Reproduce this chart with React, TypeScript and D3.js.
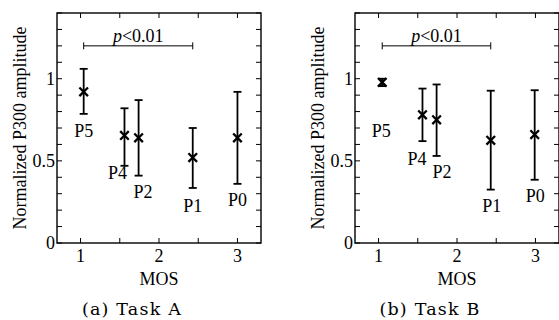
import React from "react";
import * as d3 from "d3";

// profiles, shared by both tasks
const profiles = ["P5", "P4", "P2", "P1", "P0"];
const mosA = [1.04, 1.56, 1.74, 2.43, 3.0];
const meanA = [0.92, 0.655, 0.64, 0.52, 0.64];
const lowA = [0.786, 0.47, 0.41, 0.335, 0.36];
const highA = [1.06, 0.82, 0.87, 0.7, 0.92];

const mosB = [1.047, 1.56, 1.74, 2.43, 2.99];
const meanB = [0.978, 0.78, 0.75, 0.625, 0.66];
const lowB = [0.955, 0.62, 0.53, 0.325, 0.385];
const highB = [1.0, 0.94, 0.965, 0.927, 0.93];

// label offsets (px) relative to each marker: [dx, dy]
const labelOffA = [[0, 45], [-7, 44], [4.5, 60], [0, 54], [0, 68]];
const labelOffB = [[-1, 55], [-5.5, 50], [5.4, 58], [1, 72], [0.5, 67]];

const xTicks = [1, 1.5, 2, 2.5, 3];
const xTickLabels = ["1", "2", "3"];
const yTicks = d3.range(0, 1.41, 0.1);
const yTickLabels = ["0", "0.5", "1"];

const W = 204;
const H = 230;
const serif = "'Liberation Serif', serif";
const fs = 18;

function Panel({ ox, mos, mean, low, high, offs, caption }: any) {
  const x = d3.scaleLinear().domain([0.7, 3.3]).range([0, W]);
  const y = d3.scaleLinear().domain([0, 1.4]).range([H, 0]);
  const tk = 5;
  const cap = 4;
  const m = 4.3;
  const bx0 = x(mos[0]);
  const bx1 = x(mos[3]);
  const by = y(1.2);
  const txt = { fontFamily: serif, fontSize: fs };
  return (
    <g transform={`translate(${ox},13)`}>
      {/* ticks on all sides */}
      {xTicks.map((t) => (
        <g key={"x" + t} stroke="#000" strokeWidth={1}>
          <line x1={x(t)} x2={x(t)} y1={H} y2={H - tk} />
          <line x1={x(t)} x2={x(t)} y1={0} y2={tk} />
        </g>
      ))}
      {yTicks.map((t) => (
        <g key={"y" + t} stroke="#000" strokeWidth={1}>
          <line x1={0} x2={tk} y1={y(t)} y2={y(t)} />
          <line x1={W} x2={W - tk} y1={y(t)} y2={y(t)} />
        </g>
      ))}
      <rect x={0} y={0} width={W} height={H} fill="none" stroke="#000" strokeWidth={1.4} />
      {xTickLabels.map((l) => (
        <text key={l} x={x(+l)} y={H + 19} textAnchor="middle" style={txt}>{l}</text>
      ))}
      {yTickLabels.map((l) => (
        <text key={l} x={-2} y={y(+l) + 6} textAnchor="end" style={txt}>{l}</text>
      ))}
      <text x={W / 2} y={H + 42} textAnchor="middle" style={txt}>MOS</text>
      <text transform={`translate(-31,${H / 2}) rotate(-90)`} textAnchor="middle" style={txt}>
        Normalized P300 amplitude
      </text>
      {/* subfigure caption, centred under the whole subfigure */}
      <text x={75} y={H + 72} textAnchor="middle"
        style={{ fontFamily: "'DejaVu Serif', serif", fontSize: 17.5, letterSpacing: 1.2 }}>
        {caption}
      </text>
      {/* significance bracket */}
      <g stroke="#000" strokeWidth={1}>
        <line x1={bx0} x2={bx1} y1={by} y2={by} />
        <line x1={bx0} x2={bx0} y1={by - 3.5} y2={by + 3.5} />
        <line x1={bx1} x2={bx1} y1={by - 3.5} y2={by + 3.5} />
      </g>
      <text x={(bx0 + bx1) / 2} y={by - 4} textAnchor="middle" style={txt}>
        <tspan fontStyle="italic">p</tspan>&lt;0.01
      </text>
      {profiles.map((p, i) => {
        const cx = x(mos[i]);
        const cy = y(mean[i]);
        return (
          <g key={p}>
            <g stroke="#000" strokeWidth={1.8}>
              <line x1={cx} x2={cx} y1={y(high[i])} y2={y(low[i])} />
              <line x1={cx - cap} x2={cx + cap} y1={y(high[i])} y2={y(high[i])} />
              <line x1={cx - cap} x2={cx + cap} y1={y(low[i])} y2={y(low[i])} />
            </g>
            <g stroke="#000" strokeWidth={2.3}>
              <line x1={cx - m} x2={cx + m} y1={cy - m} y2={cy + m} />
              <line x1={cx - m} x2={cx + m} y1={cy + m} y2={cy - m} />
            </g>
            <text x={cx + offs[i][0]} y={cy + offs[i][1]} textAnchor="middle" style={txt}>{p}</text>
          </g>
        );
      })}
    </g>
  );
}

export default function App() {
  return (
    <svg width={559} height={320} style={{ position: "absolute", left: 0, top: 0, background: "#fff" }}>
      <Panel ox={57} mos={mosA} mean={meanA} low={lowA} high={highA} offs={labelOffA} caption="(a) Task A" />
      <Panel ox={355} mos={mosB} mean={meanB} low={lowB} high={highB} offs={labelOffB} caption="(b) Task B" />
    </svg>
  );
}
